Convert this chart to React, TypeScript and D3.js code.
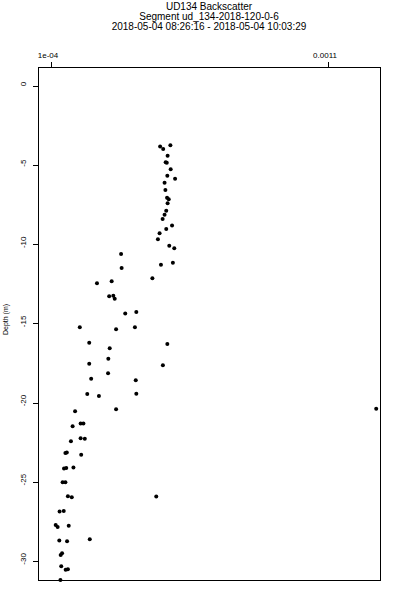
import React from "react";
import * as d3 from "d3";

const titleLines = [
  "UD134 Backscatter",
  "Segment ud_134-2018-120-0-6",
  "2018-05-04 08:26:16 - 2018-05-04 10:03:29",
];
const yLabel = "Depth (m)";

const xTicks = [0.0001, 0.0011];
const xTickLabels = ["1e-04", "0.0011"];
const yTicks = [0, -5, -10, -15, -20, -25, -30];

const depth = [
  -3.83, -3.98, -3.75, -4.4, -4.82, -4.85, -5.26, -5.67, -5.86, -6.11,
  -6.57, -7.06, -7.16, -7.41, -7.88, -8.13, -8.4, -8.82, -9.03, -9.31,
  -9.68, -10.09, -10.25, -11.29, -11.16, -12.15, -10.61, -11.5, -12.46, -12.34,
  -13.28, -13.25, -13.44, -14.38, -14.28, -15.24, -15.37, -15.24, -16.22, -16.3,
  -16.57, -17.23, -17.54, -17.64, -18.49, -18.15, -18.59, -19.46, -19.58, -19.44,
  -20.55, -20.42, -21.5, -21.33, -21.33, -22.44, -22.26, -22.28, -23.18, -23.16,
  -23.29, -24.17, -24.13, -24.11, -25.03, -25.03, -25.92, -25.98, -25.94, -26.89,
  -26.85, -27.73, -27.86, -27.78, -28.72, -28.76, -28.64, -29.63, -29.52, -30.34,
  -30.57, -30.53, -31.21, -20.39,
];
const backscatter = [
  0.000494, 0.000505, 0.000531, 0.000521, 0.000514, 0.000518, 0.000532, 0.00052, 0.000548, 0.00051,
  0.000513, 0.000519, 0.000525, 0.000521, 0.000516, 0.00051, 0.000503, 0.000537, 0.000516, 0.000492,
  0.000486, 0.000527, 0.000545, 0.000497, 0.00054, 0.000466, 0.000353, 0.000355, 0.000266, 0.000319,
  0.00031, 0.000325, 0.00033, 0.000368, 0.000408, 0.000204, 0.000335, 0.000403, 0.000238, 0.00052,
  0.000312, 0.000307, 0.000238, 0.000504, 0.000245, 0.000306, 0.000406, 0.000231, 0.000273, 0.000408,
  0.000187, 0.000335, 0.000178, 0.000207, 0.000217, 0.000172, 0.000207, 0.000222, 0.000152, 0.000157,
  0.000209, 0.000147, 0.000155, 0.000181, 0.000142, 0.000152, 0.000161, 0.000175, 0.00048, 0.000131,
  0.000146, 0.000117, 0.000124, 0.000164, 0.00013, 0.000158, 0.00024, 0.000135, 0.00014, 0.000137,
  0.000153, 0.000161, 0.000134, 0.001274,
];

const W = 400;
const H = 600;
const left = 38;
const right = 380;
const top = 67;
const bottom = 580;
const font = "'Liberation Sans', Arial, Helvetica, sans-serif";

export default function App() {
  const x = d3.scaleLinear().domain([0.0000531, 0.0012877]).range([left, right]);
  const y = d3.scaleLinear().domain([1.2, -31.21]).range([top, bottom]);
  const cx = (left + right) / 2;
  const cy = (top + bottom) / 2;

  return (
    <svg
      width={W}
      height={H}
      style={{ position: "absolute", left: 0, top: 0, background: "#fff" }}
      fontFamily={font}
    >
      <rect x={0} y={0} width={W} height={H} fill="#fff" />
      {titleLines.map((t, i) => (
        <text key={i} x={cx} y={10 + i * 10} fontSize={10} textAnchor="middle" fill="#000">
          {t}
        </text>
      ))}
      <rect
        x={left + 0.5}
        y={top + 0.5}
        width={right - left}
        height={bottom - top}
        fill="none"
        stroke="#000"
        strokeWidth={1}
      />
      {xTicks.map((t, i) => (
        <g key={i}>
          <line x1={Math.round(x(t)) + 0.5} x2={Math.round(x(t)) + 0.5} y1={top - 5} y2={top} stroke="#000" />
          <text x={x(t)} dx={-3} y={57.5} fontSize={8} textAnchor="middle" fill="#000">
            {xTickLabels[i]}
          </text>
        </g>
      ))}
      {yTicks.map((t, i) => (
        <g key={i}>
          <line x1={left - 5} x2={left} y1={Math.round(y(t)) + 0.5} y2={Math.round(y(t)) + 0.5} stroke="#000" />
          <text
            transform={`translate(25.5,${y(t)}) rotate(-90)`}
            dx={2}
            fontSize={8}
            textAnchor="middle"
            fill="#000"
          >
            {t}
          </text>
        </g>
      ))}
      <text transform={`translate(7.5,${cy - 4}) rotate(-90)`} fontSize={7} textAnchor="middle" fill="#000">
        {yLabel}
      </text>
      {depth.map((d, i) => (
        <circle key={i} cx={x(backscatter[i])} cy={y(d)} r={2} fill="#000" />
      ))}
    </svg>
  );
}
